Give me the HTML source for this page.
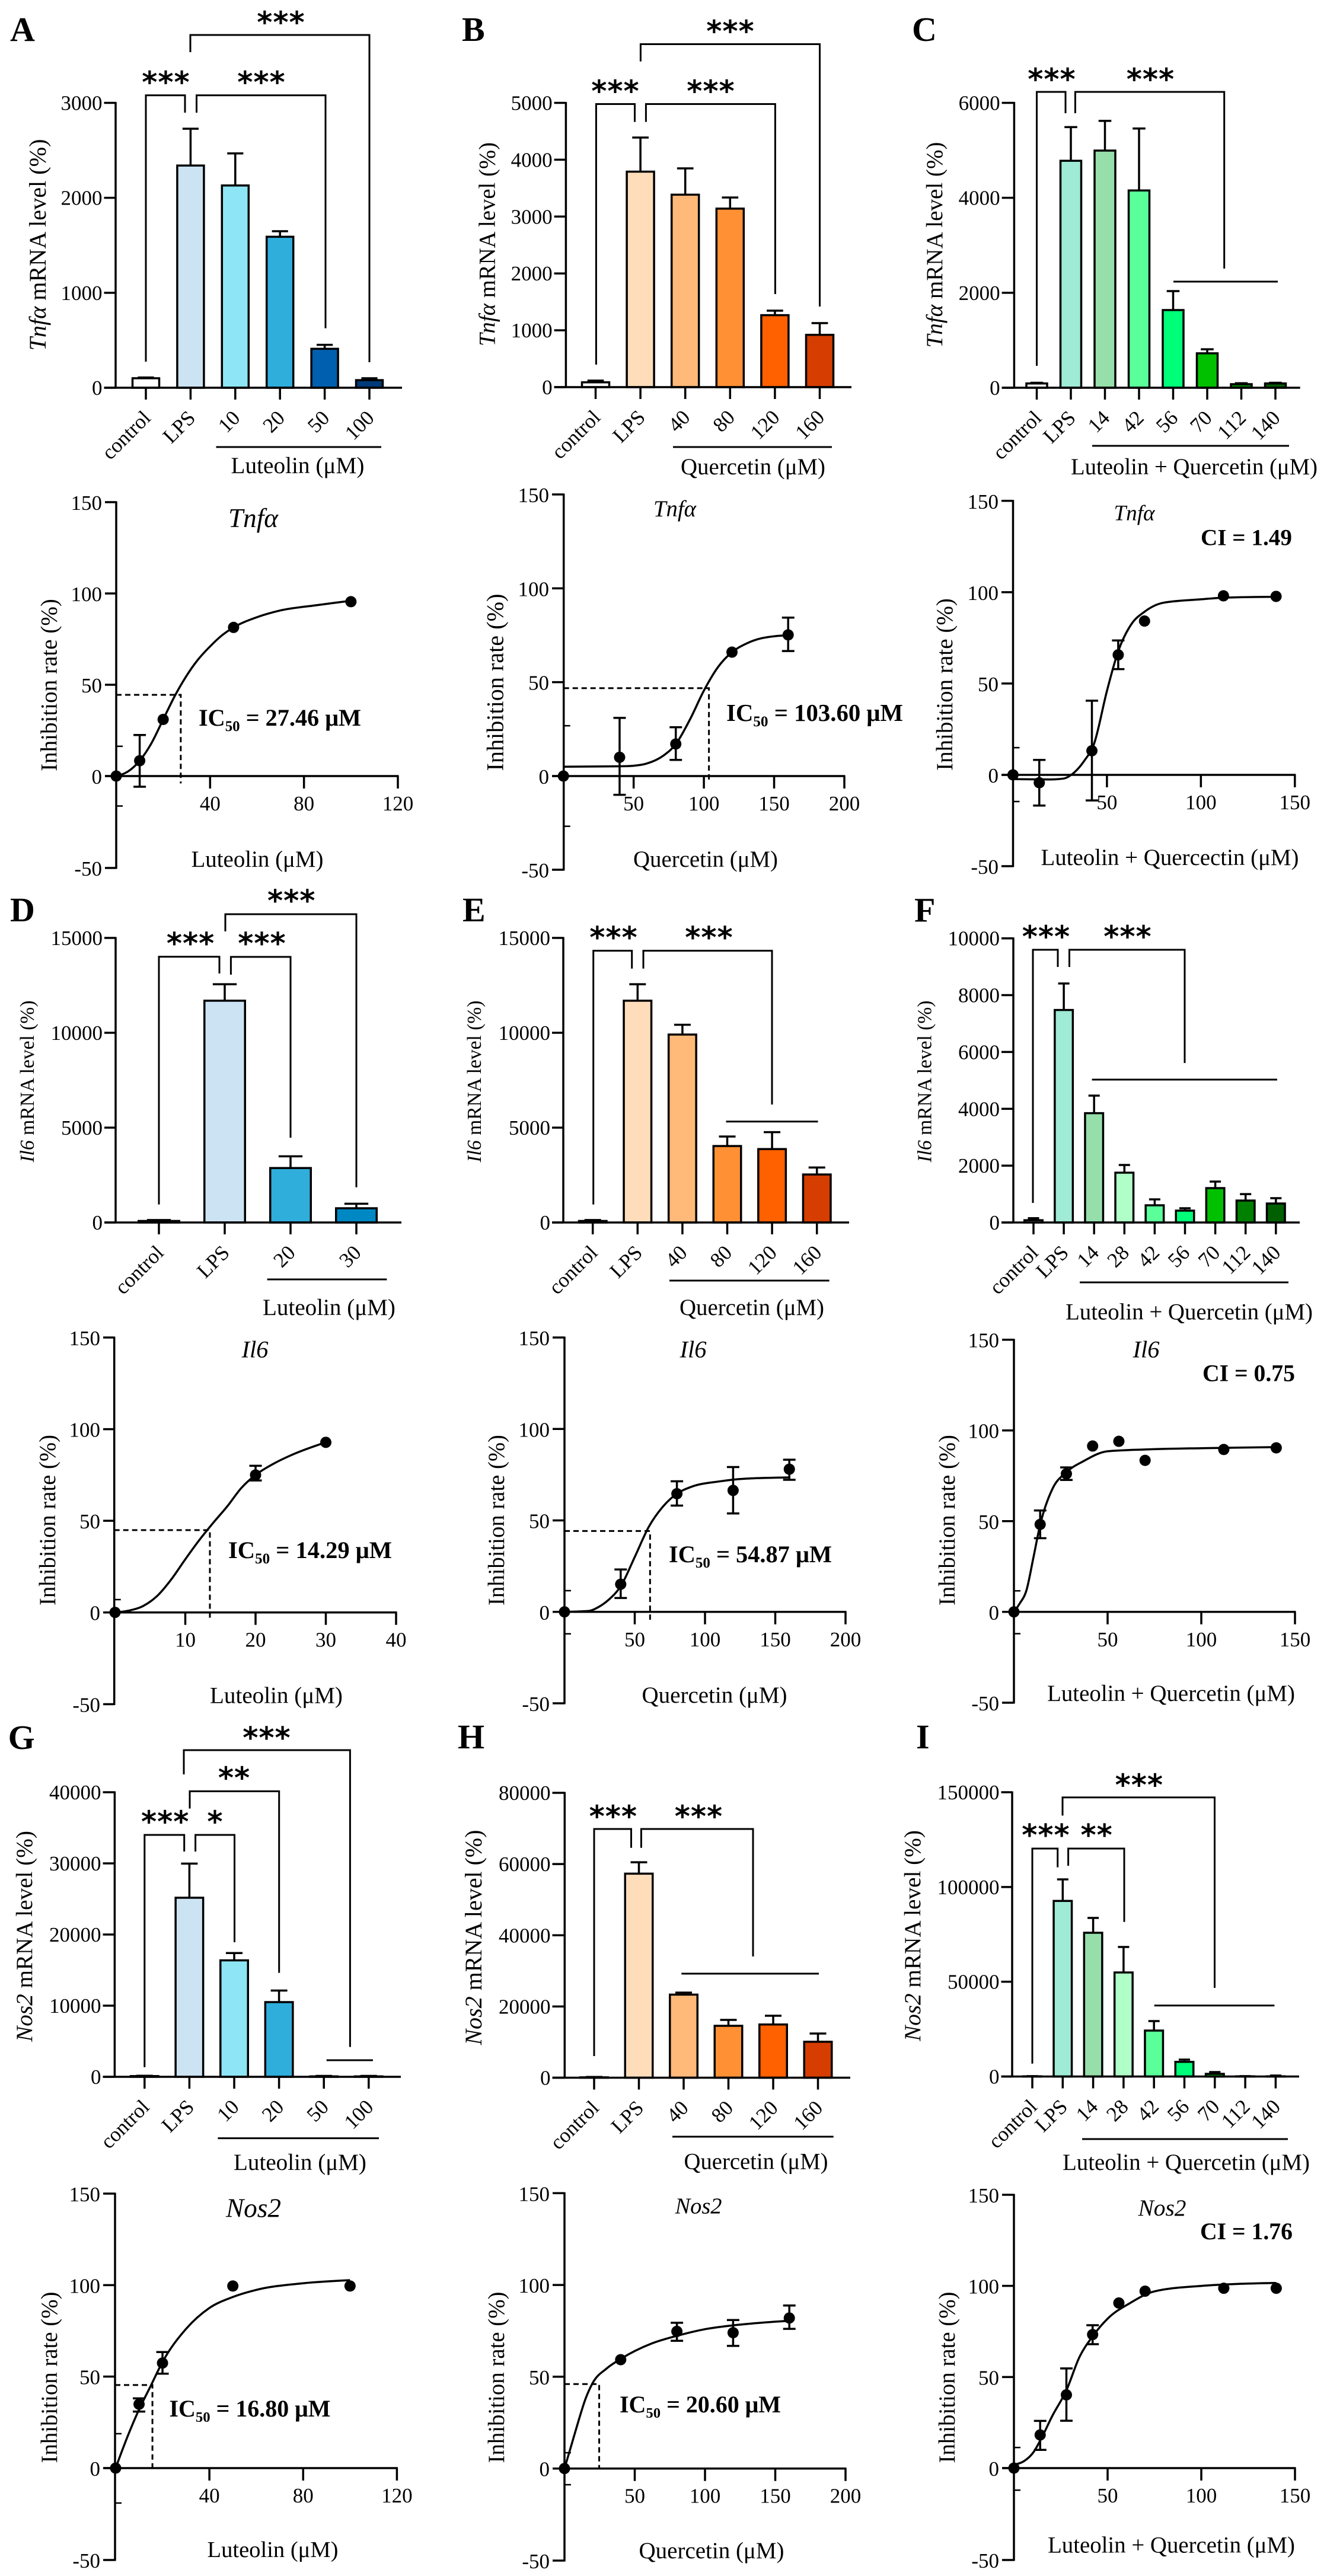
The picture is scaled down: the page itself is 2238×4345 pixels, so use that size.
<!DOCTYPE html>
<html lang="en">
<head>
<meta charset="utf-8">
<title>Inhibition of Tnfα, Il6 and Nos2 mRNA by luteolin and quercetin</title>
<style>
html,body{margin:0;padding:0;background:#fff;}
svg{display:block;font-family:"Liberation Serif",serif;}
</style>
</head>
<body>
<svg id="figure" xmlns="http://www.w3.org/2000/svg" width="2238" height="4345" viewBox="0 0 2238 4345">
<rect x="0" y="0" width="2238" height="4345" fill="#ffffff"/>
</svg>
<script>
/* ---------- bar chart data ---------- */
const aCats = ['control','LPS','10','20','50','100'];
const aValues = [100,2340,2130,1590,410,80];
const aErrors = [8,388,338,58,42,20];
const aYTicks = [0,1000,2000,3000];
const aColors = ['#ffffff','#cce3f3','#8ee5f5','#2faedb','#005fae','#003a78'];

const bCats = ['control','LPS','40','80','120','160'];
const bValues = [85,3790,3385,3140,1266,920];
const bErrors = [30,600,463,195,79,206];
const bYTicks = [0,1000,2000,3000,4000,5000];
const bColors = ['#ffffff','#ffddbb','#ffb978','#ff9033','#ff6000','#d63d00'];

const cCats = ['control','LPS','14','42','56','70','112','140'];
const cValues = [90,4780,4995,4155,1636,725,75,90];
const cErrors = [15,710,625,1305,400,85,20,15];
const cYTicks = [0,2000,4000,6000];
const cColors = ['#ffffff','#9febd5','#96dfaa','#5aff9a','#00ff78','#00c000','#008000','#005f00'];

const dCats = ['control','LPS','20','30'];
const dValues = [80,11690,2870,750];
const dErrors = [50,870,620,240];
const dYTicks = [0,5000,10000,15000];
const dColors = ['#ffffff','#cce3f3','#2faedb','#0088c4'];

const eCats = ['control','LPS','40','80','120','160'];
const eValues = [80,11690,9906,4030,3870,2530];
const eErrors = [50,870,514,500,890,370];
const eYTicks = [0,5000,10000,15000];
const eColors = ['#ffffff','#ffddbb','#ffb978','#ff9033','#ff6000','#d63d00'];

const fCats = ['control','LPS','14','28','42','56','70','112','140'];
const fValues = [80,7478,3847,1753,605,417,1210,772,668];
const fErrors = [70,932,618,271,209,83,230,228,187];
const fYTicks = [0,2000,4000,6000,8000,10000];
const fColors = ['#ffffff','#9febd5','#96dfaa','#b0ffc8','#5aff9a','#00ff78','#00c000','#008000','#005f00'];

const gCats = ['control','LPS','10','20','50','100'];
const gValues = [100,25170,16370,10500,60,60];
const gErrors = [50,4800,1030,1620,60,60];
const gYTicks = [0,10000,20000,30000,40000];
const gColors = ['#ffffff','#cce3f3','#8ee5f5','#2faedb','#005fae','#003a78'];

const hCats = ['control','LPS','40','80','120','160'];
const hValues = [100,57300,23330,14570,14940,10090];
const hErrors = [100,3200,570,1660,2460,2310];
const hYTicks = [0,20000,40000,60000,80000];
const hColors = ['#ffffff','#ffddbb','#ffb978','#ff9033','#ff6000','#d63d00'];

const iCats = ['control','LPS','14','28','42','56','70','112','140'];
const iValues = [100,92650,75850,54900,24240,7730,1400,100,100];
const iErrors = [100,11350,7850,13450,5000,1200,940,100,400];
const iYTicks = [0,50000,100000,150000];
const iColors = ['#ffffff','#9febd5','#96dfaa','#b0ffc8','#5aff9a','#00ff78','#00c000','#008000','#005f00'];

/* ---------- dose-response data ---------- */
const inhibYTicks = [150,100,50,0,-50];

const a2Dose = [0,10,20,50,100];
const a2Inhib = [0,8.4,31,81.4,95.5];
const a2ErrUp = [0,14.1,0,0,0];
const a2ErrDown = [0,14.2,0,0,0];
const a2FitX = [0,5,10,15,20,25,30,35,40,45,50,60,70,85,100];
const a2FitY = [0,2.5,8.4,18,31,44,55,64,71,77,81.4,87,90.7,93.5,96];
const a2XTicks = [40,80,120];

const b2Dose = [0,40,80,120,160];
const b2Inhib = [0,10,17.1,66,75.2];
const b2ErrUp = [0,21,8.9,0,9.2];
const b2ErrDown = [0,20,8.5,0,8.6];
const b2FitX = [0,40,50,59,71,80,90,100,110,120,130,141,160];
const b2FitY = [5,5.2,5.5,6.6,10.8,17,30,45.5,58,66,70.5,73.4,75];
const b2XTicks = [50,100,150,200];

const c2Dose = [0,14,42,56,70,112,140];
const c2Inhib = [0,-4.3,13.2,65.7,84.2,98,97.7];
const c2ErrUp = [0,12.5,27.4,7.9,0,0,0];
const c2ErrDown = [0,12.5,27.2,7.8,0,0,0];
const c2FitX = [0,20,27,31,38,43,50,56,63,70,80,100,112,140];
const c2FitY = [-2.3,-2.5,-2,0,7.8,16.6,46,67.7,82.5,89.3,94.2,96.1,97,97.5];
const c2XTicks = [50,100,150];

const d2Dose = [0,20,30];
const d2Inhib = [0,75,92.8];
const d2ErrUp = [0,5,0];
const d2ErrDown = [0,3,0];
const d2FitX = [0,2,4,6,8,10,12,14,16,18,20,22.5,25,30];
const d2FitY = [0,1,3.5,9,18,29,39.5,49,58,68,75,81,85.7,92.8];
const d2XTicks = [10,20,30,40];

const e2Dose = [0,40,80,120,160];
const e2Inhib = [0,15.1,64.6,66.4,78];
const e2ErrUp = [0,8.1,6.8,12.8,5.2];
const e2ErrDown = [0,7.5,6.5,12.6,5.8];
const e2FitX = [0,17,25,32,40,50,60,70,80,90,110,128,160];
const e2FitY = [0,0.5,3,7,14,30,46.5,57.5,64.6,68.3,71.3,72.8,73.5];
const e2XTicks = [50,100,150,200];

const f2Dose = [0,14,28,42,56,70,112,140];
const f2Inhib = [0,48.2,76.1,91.4,94,83.5,89.5,90.4];
const f2ErrUp = [0,7.7,3.5,0,0,0,0,0];
const f2ErrDown = [0,7.6,3.4,0,0,0,0,0];
const f2FitX = [0,3,6.7,10.4,14,20.4,28,37,50,70,100,140];
const f2FitY = [0,4.5,12,30,48,67.5,77,83,88.5,89.5,90.2,90.8];
const f2XTicks = [50,100,150];

const g2Dose = [0,10,20,50,100];
const g2Inhib = [0,34.9,57.4,99.5,99.5];
const g2ErrUp = [0,3.2,6,0,0];
const g2ErrDown = [0,4,5.8,0,0];
const g2FitX = [0,5,10,15,20,30,40,50,60,80,100];
const g2FitY = [0,17,32,45,58,76,87.5,93.5,97.4,101,102.7];
const g2XTicks = [40,80,120];

const h2Dose = [0,40,80,120,160];
const h2Inhib = [0,59.3,74.7,74,82];
const h2ErrUp = [0,0,4.7,6.9,6.8];
const h2ErrDown = [0,0,5.1,7.2,5.9];
const h2FitX = [0,5,10,15,20,30,40,62,80,100,120,160];
const h2FitY = [0,13,26,38,46.5,54.5,59.7,68.1,72.3,75.9,78,80.5];
const h2XTicks = [50,100,150,200];

const i2Dose = [0,14,28,42,56,70,112,140];
const i2Inhib = [0,18.2,40.2,73.3,90.6,97.1,98.7,98.7];
const i2ErrUp = [0,7.7,14.5,5.1,0,0,0,0];
const i2ErrDown = [0,8.2,14.2,5.3,0,0,0,0];
const i2FitX = [0,5.5,10.4,14,20.4,28,35,42,50,62,75,100,140];
const i2FitY = [2,3.9,8.7,15,28.5,42.7,61,72.3,82,90.6,97,100,101.6];
const i2XTicks = [50,100,150];

/* ---------- layout ---------- */
const barPanels = [
 {id:'a',letter:'A',lx:17,ly:69,axisX:195,yTop:173.5,y0:654,yMax:3000,leftTick:175.5,xRight:678,cx0:246,dx:75.4,barW:48.5,
  cats:aCats,values:aValues,errors:aErrors,yTicks:aYTicks,colors:aColors,
  gene:'Tnfα',rest:' mRNA level  (%)',yl:{x:77,cy:413,len:357},under:[364.5,643,754],group:{t:'Luteolin (μM)',cx:502,y:798,len:225},
  brackets:[[246,312,160.7,610,190],[331.5,549,160.7,190,553.6],[321,623,59,88,611]],
  stars:[[280,129,3],[441,129,3],[474,28,3]],lines:[]},
 {id:'b',letter:'B',lx:779,ly:69,axisX:954.4,yTop:173.5,y0:653,yMax:5000,leftTick:934.6,xRight:1436,cx0:1004.5,dx:75.6,barW:49.5,
  cats:bCats,values:bValues,errors:bErrors,yTicks:bYTicks,colors:bColors,
  gene:'Tnfα',rest:' mRNA level (%)',yl:{x:834.6,cy:412,len:344},under:[1135,1403,754],group:{t:'Quercetin (μM)',cx:1270,y:800,len:244},
  brackets:[[1005.4,1070.5,175.5,615,205.6],[1089.4,1307.4,175.5,205.6,496],[1080.4,1382.5,74.5,103.6,517]],
  stars:[[1038,144,3],[1199,144,3],[1232,43,3]],lines:[]},
 {id:'c',letter:'C',lx:1538,ly:69,axisX:1710.4,yTop:173.5,y0:654,yMax:6000,leftTick:1689.6,xRight:2192.7,cx0:1748.5,dx:57.5,barW:38.5,
  cats:cCats,values:cValues,errors:cErrors,yTicks:cYTicks,colors:cColors,
  gene:'Tnfα',rest:' mRNA level (%)',yl:{x:1589,cy:413,len:347},under:[1842,2174,752],group:{t:'Luteolin + Quercetin (μM)',cx:2014,y:800,len:416},
  brackets:[[1748.5,1797,155,617,191],[1813.4,2064.7,155,191,453]],
  stars:[[1774,124,3],[1940.5,124,3]],lines:[[1979,2155,475]]},
 {id:'d',letter:'D',lx:17,ly:1554,axisX:195,yTop:1582,y0:2062,yMax:15000,leftTick:176,xRight:677,cx0:268,dx:111,barW:72,
  cats:dCats,values:dValues,errors:dErrors,yTicks:dYTicks,colors:dColors,
  gene:'Il6',rest:' mRNA level (%)',yl:{x:57,cy:1824,len:273},under:[450.6,652.4,2158],group:{t:'Luteolin (μM)',cx:555,y:2218,len:224},
  brackets:[[268,370,1613.8,2031.6,1642],[389.4,490,1614,1644,1919],[380,601,1542,1571,2002.6]],
  stars:[[321.6,1581.6,3],[442,1581.6,3],[491.7,1509.7,3]],lines:[]},
 {id:'e',letter:'E',lx:780,ly:1554,axisX:950,yTop:1582,y0:2062,yMax:15000,leftTick:931,xRight:1432,cx0:999.7,dx:75.6,barW:50,
  cats:eCats,values:eValues,errors:eErrors,yTicks:eYTicks,colors:eColors,
  gene:'Il6',rest:' mRNA level (%)',yl:{x:811,cy:1824,len:273},under:[1129,1398.6,2160],group:{t:'Quercetin (μM)',cx:1268,y:2218,len:244},
  brackets:[[1000.7,1065.7,1603.6,2031.6,1633.7],[1085,1302,1603.6,1633.7,1863]],
  stars:[[1035,1571.4,3],[1196,1571.4,3]],lines:[[1224.5,1379.5,1891.8]]},
 {id:'f',letter:'F',lx:1542,ly:1554.6,axisX:1709,yTop:1582.7,y0:2062,yMax:10000,leftTick:1689,xRight:2192,cx0:1743,dx:51.1,barW:34,
  cats:fCats,values:fValues,errors:fErrors,yTicks:fYTicks,colors:fColors,
  gene:'Il6',rest:' mRNA level (%)',yl:{x:1570.6,cy:1824,len:273},under:[1821,2173,2163],group:{t:'Luteolin + Quercetin (μM)',cx:2005.5,y:2225.5,len:417},
  brackets:[[1742,1784,1602,2029,1631],[1803.5,1998,1602,1631,1793]],
  stars:[[1764.5,1570,3],[1902,1570,3]],lines:[[1841.6,2154,1821]]},
 {id:'g',letter:'G',lx:13.6,ly:2950,axisX:193.4,yTop:3023,y0:3503,yMax:40000,leftTick:173.5,xRight:676,cx0:243.8,dx:75.6,barW:50,
  cats:gCats,values:gValues,errors:gErrors,yTicks:gYTicks,colors:gColors,
  gene:'Nos2',rest:' mRNA level (%)',yl:{x:54,cy:3266,len:356},under:[367.4,639,3606.6],group:{t:'Luteolin (μM)',cx:506,y:3660,len:224},
  brackets:[[243.8,310.7,3095,3486.7,3123],[329.6,395.5,3095,3123,3276],[320,470.7,3021.4,3050.5,3327.6],[310,590.4,2952,2992.9,3452.6]],
  stars:[[278.7,3063,3],[363,3063,1],[395,2989,2],[450,2921.4,3]],lines:[[550.7,629,3475]]},
 {id:'h',letter:'H',lx:772,ly:2949,axisX:952.3,yTop:3024,y0:3504.5,yMax:80000,leftTick:931.5,xRight:1434,cx0:1002,dx:75.5,barW:50,
  cats:hCats,values:hValues,errors:hErrors,yTicks:hYTicks,colors:hColors,
  gene:'Nos2',rest:' mRNA level (%)',yl:{x:812,cy:3268,len:363},under:[1134,1405.7,3604],group:{t:'Quercetin (μM)',cx:1275,y:3658.6,len:243},
  brackets:[[1002,1064.5,3085,3468,3116.7],[1081.4,1270,3085,3116.7,3300]],
  stars:[[1034.3,3054,3],[1178.5,3054,3]],lines:[[1149.3,1381,3329]]},
 {id:'i',letter:'I',lx:1545,ly:2949,axisX:1707,yTop:3023,y0:3502.5,yMax:150000,leftTick:1688.5,xRight:2191,cx0:1741,dx:51.3,barW:34,
  cats:iCats,values:iValues,errors:iErrors,yTicks:iYTicks,colors:iColors,
  gene:'Nos2',rest:' mRNA level (%)',yl:{x:1552,cy:3265,len:356},under:[1825,2172,3608],group:{t:'Luteolin + Quercetin (μM)',cx:2000.5,y:3660,len:417},
  brackets:[[1741,1783.7,3118,3480.7,3149.6],[1801.6,1896,3118,3147,3241.7],[1792,2048.5,3031.8,3062.4,3353]],
  stars:[[1764,3085.7,3],[1849.6,3085.7,2],[1921.3,3000.8,3]],lines:[[1946.7,2149.4,3382.8]]}
];

const curvePanels = [
 {id:'a2',axisX:196,x0:196,xEnd:671,xMax:120,yTop:847,y0:1309,yBot:1464,leftTick:177,
  dose:a2Dose,inhib:a2Inhib,up:a2ErrUp,down:a2ErrDown,fitX:a2FitX,fitY:a2FitY,xTicks:a2XTicks,minor:[16.3,-16.3],
  guide:{x:27.5,y:44.5,end:-4},title:{t:'Tnfα',cx:427,y:889,len:84},xl:{t:'Luteolin (μM)',cx:434,y:1462,len:223},
  yl:{x:95.5,cy:1155.5,len:291},ic:{v:' = 27.46 μM',x:335,y:1224,len:274}},
 {id:'b2',axisX:950.7,x0:950.2,xEnd:1424,xMax:200,yTop:834,y0:1309,yBot:1467,leftTick:931,
  dose:b2Dose,inhib:b2Inhib,up:b2ErrUp,down:b2ErrDown,fitX:b2FitX,fitY:b2FitY,xTicks:b2XTicks,minor:[26.8,-26.8],
  guide:{x:103.6,y:46.8,end:-3.5},title:{t:'Tnfα',cx:1138,y:871,len:72},xl:{t:'Quercetin (μM)',cx:1190,y:1462,len:244},
  yl:{x:848.7,cy:1151,len:299},ic:{v:' = 103.60 μM',x:1225,y:1216,len:298}},
 {id:'c2',axisX:1708.5,x0:1708.4,xEnd:2183.8,xMax:150,yTop:844.8,y0:1307,yBot:1461,leftTick:1689,
  dose:c2Dose,inhib:c2Inhib,up:c2ErrUp,down:c2ErrDown,fitX:c2FitX,fitY:c2FitY,xTicks:c2XTicks,minor:[14.9,-14.6],
  title:{t:'Tnfα',cx:1913,y:877.5,len:69},xl:{t:'Luteolin + Quercectin (μM)',cx:1973,y:1459,len:435},
  yl:{x:1606,cy:1154.5,len:291},ci:{t:'CI = 1.49',x:2025,y:919.4,len:154}},
 {id:'d2',axisX:192.7,x0:194,xEnd:668,xMax:40,yTop:2256,y0:2719.7,yBot:2874.5,leftTick:174,
  dose:d2Dose,inhib:d2Inhib,up:d2ErrUp,down:d2ErrDown,fitX:d2FitX,fitY:d2FitY,xTicks:d2XTicks,minor:[7],
  guide:{x:13.5,y:44.9,end:-3.6},title:{t:'Il6',cx:430,y:2289.5,len:45},xl:{t:'Luteolin (μM)',cx:466,y:2872.6,len:224},
  yl:{x:93,cy:2564,len:288},ic:{v:' = 14.29 μM',x:385,y:2628,len:276}},
 {id:'e2',axisX:952,x0:952,xEnd:1426,xMax:200,yTop:2256,y0:2718.8,yBot:2873,leftTick:932,
  dose:e2Dose,inhib:e2Inhib,up:e2ErrUp,down:e2ErrDown,fitX:e2FitX,fitY:e2FitY,xTicks:e2XTicks,minor:[11.6,-12],
  guide:{x:60.9,y:44.2,end:-4.5},title:{t:'Il6',cx:1169,y:2289.5,len:45},xl:{t:'Quercetin (μM)',cx:1205,y:2872,len:245},
  yl:{x:850,cy:2564,len:288},ic:{v:' = 54.87 μM',x:1128,y:2635,len:275}},
 {id:'f2',axisX:1710,x0:1710,xEnd:2184,xMax:150,yTop:2259.7,y0:2718.8,yBot:2872,leftTick:1690,
  dose:f2Dose,inhib:f2Inhib,up:f2ErrUp,down:f2ErrDown,fitX:f2FitX,fitY:f2FitY,xTicks:f2XTicks,minor:[11.6,-12],
  title:{t:'Il6',cx:1933,y:2289.5,len:45},xl:{t:'Luteolin + Quercetin (μM)',cx:1975,y:2869,len:418},
  yl:{x:1610,cy:2564,len:288},ci:{t:'CI = 0.75',x:2028,y:2329.5,len:156}},
 {id:'g2',axisX:194,x0:195,xEnd:669.4,xMax:120,yTop:3700,y0:4163,yBot:4318,leftTick:174,
  dose:g2Dose,inhib:g2Inhib,up:g2ErrUp,down:g2ErrDown,fitX:g2FitX,fitY:g2FitY,xTicks:g2XTicks,minor:[18.8,-19],
  guide:{x:15.7,y:45.4,end:0},title:{t:'Nos2',cx:427.5,y:3739.5,len:93},xl:{t:'Luteolin (μM)',cx:460,y:4313,len:221},
  yl:{x:96,cy:4010,len:289},ic:{v:' = 16.80 μM',x:285.5,y:4076,len:272}},
 {id:'h2',axisX:952,x0:952,xEnd:1426,xMax:200,yTop:3699.3,y0:4163.7,yBot:4319,leftTick:932,
  dose:h2Dose,inhib:h2Inhib,up:h2ErrUp,down:h2ErrDown,fitX:h2FitX,fitY:h2FitY,xTicks:h2XTicks,minor:[8.6,-8.8],
  guide:{x:24.7,y:46,end:0},title:{t:'Nos2',cx:1178,y:3733.4,len:79},xl:{t:'Quercetin (μM)',cx:1200,y:4315,len:245},
  yl:{x:850,cy:4010,len:289},ic:{v:' = 20.60 μM',x:1045,y:4069,len:272}},
 {id:'i2',axisX:1710,x0:1710,xEnd:2184,xMax:150,yTop:3702,y0:4163,yBot:4318,leftTick:1690,
  dose:i2Dose,inhib:i2Inhib,up:i2ErrUp,down:i2ErrDown,fitX:i2FitX,fitY:i2FitY,xTicks:i2XTicks,minor:[11.3,-12],
  title:{t:'Nos2',cx:1960,y:3737,len:81},xl:{t:'Luteolin + Quercetin (μM)',cx:1975.5,y:4305.7,len:417},
  yl:{x:1610,cy:4010,len:289},ci:{t:'CI = 1.76',x:2024,y:3777,len:156}}
];

/* ---------- helpers ---------- */
const NS = 'http://www.w3.org/2000/svg';
const root = document.getElementById('figure');
const TICK_FONT = 35;
const STROKE = 3.5;

function mk(parent, tag, attrs, txt){
  const el = document.createElementNS(NS, tag);
  for (const k in attrs) el.setAttribute(k, attrs[k]);
  if (txt !== undefined) el.textContent = txt;
  parent.appendChild(el);
  return el;
}
function fit(el, len){
  const base = parseFloat(el.getAttribute('font-size'));
  const w = el.getComputedTextLength();
  if (w > 0) el.setAttribute('font-size', (base * len / w).toFixed(2));
}
function seg(parent, x1, y1, x2, y2, w){
  return mk(parent, 'line', {x1:x1, y1:y1, x2:x2, y2:y2, stroke:'#000', 'stroke-width':w || STROKE});
}

function drawBar(p){
  const g = mk(root, 'g', {});
  
  
  const sy = v => p.y0 - v / p.yMax * (p.y0 - p.yTop);
  const sx = i => p.cx0 + i * p.dx;

  const letter = mk(g, 'text', {x:p.lx, y:p.ly, 'font-size':58, 'font-weight':'bold'}, p.letter);
  
  

  p.values.forEach((v, i) => {
    const cx = sx(i);
    const top = sy(v);
    const errTop = sy(v + p.errors[i]);
    const errLine = seg(g, cx, top, cx, errTop);
    
    
    const cap = seg(g, cx - p.barW * 0.28, errTop, cx + p.barW * 0.28, errTop);
    
    
    const bar = mk(g, 'rect', {x:cx - p.barW / 2 + 1.75, y:top, width:p.barW - 3.5, height:Math.max(p.y0 - top, 0), fill:p.colors[i], stroke:'#000', 'stroke-width':STROKE});
    
    
    const tick = seg(g, cx, p.y0, cx, p.y0 + 20);
    
    
    const lx = cx + 10, ly = p.y0 + 53;
    const lab = mk(g, 'text', {x:lx, y:ly, 'font-size':TICK_FONT, 'text-anchor':'end', transform:'rotate(-45 ' + lx + ' ' + ly + ')'}, p.cats[i]);
    
    
  });

  const yAxis = seg(g, p.axisX, p.yTop - 1.5, p.axisX, p.y0 + 1.5);
  
  
  const xAxis = seg(g, p.leftTick, p.y0, p.xRight, p.y0);
  
  

  p.yTicks.forEach(t => {
    const y = sy(t);
    const tick = seg(g, p.leftTick, y, p.axisX, y);
    
    
    const lab = mk(g, 'text', {x:p.leftTick - 3, y:y + 12, 'font-size':TICK_FONT, 'text-anchor':'end'}, String(t));
    
    
  });

  const yt = mk(g, 'text', {x:p.yl.x, y:p.yl.cy, 'font-size':36, 'text-anchor':'middle', transform:'rotate(-90 ' + p.yl.x + ' ' + p.yl.cy + ')', 'xml:space':'preserve'});
  
  
  mk(yt, 'tspan', {'font-style':'italic'}, p.gene);
  mk(yt, 'tspan', {}, p.rest);
  fit(yt, p.yl.len);

  const ub = seg(g, p.under[0], p.under[2], p.under[1], p.under[2], 3);
  
  
  const gt = mk(g, 'text', {x:p.group.cx, y:p.group.y, 'font-size':36, 'text-anchor':'middle'}, p.group.t);
  
  
  fit(gt, p.group.len);

  p.brackets.forEach((b, k) => {
    const br = mk(g, 'path', {d:'M' + b[0] + ' ' + b[3] + 'V' + b[2] + 'H' + b[1] + 'V' + b[4], fill:'none', stroke:'#000', 'stroke-width':3});
    
    
  });
  p.stars.forEach((s, k) => {
    const st = mk(g, 'text', {x:s[0], y:s[1] + 27, 'font-size':50, 'font-weight':'bold', 'text-anchor':'middle', 'letter-spacing':1, style:'font-family:"DejaVu Sans",sans-serif'}, '*'.repeat(s[2]));
    
    
  });
  p.lines.forEach((l, k) => {
    const ln = seg(g, l[0], l[2], l[1], l[2], 3);
    
    
  });
}

/* monotone cubic interpolation through the plotted fit points */
function smoothPath(pts){
  const n = pts.length;
  const h = [], s = [], m = [];
  for (let i = 0; i < n - 1; i++){
    h[i] = pts[i + 1][0] - pts[i][0];
    s[i] = (pts[i + 1][1] - pts[i][1]) / h[i];
  }
  for (let i = 1; i < n - 1; i++){
    const p = (s[i - 1] * h[i] + s[i] * h[i - 1]) / (h[i - 1] + h[i]);
    m[i] = (Math.sign(s[i - 1]) + Math.sign(s[i])) * Math.min(Math.abs(s[i - 1]), Math.abs(s[i]), 0.5 * Math.abs(p));
  }
  m[0] = n > 2 ? (3 * s[0] - m[1]) / 2 : s[0];
  m[n - 1] = n > 2 ? (3 * s[n - 2] - m[n - 2]) / 2 : s[0];
  let d = 'M' + pts[0][0].toFixed(1) + ' ' + pts[0][1].toFixed(1);
  for (let i = 0; i < n - 1; i++){
    const t = h[i] / 3;
    d += 'C' + (pts[i][0] + t).toFixed(1) + ' ' + (pts[i][1] + m[i] * t).toFixed(1) + ' ' + (pts[i + 1][0] - t).toFixed(1) + ' ' + (pts[i + 1][1] - m[i + 1] * t).toFixed(1) + ' ' + pts[i + 1][0].toFixed(1) + ' ' + pts[i + 1][1].toFixed(1);
  }
  return d;
}

function drawCurve(p){
  const g = mk(root, 'g', {});
  
  
  const sx = v => p.x0 + v / p.xMax * (p.xEnd - p.x0);
  const sy = v => p.y0 - v / 150 * (p.y0 - p.yTop);
  const yv = v => v >= 0 ? sy(v) : p.y0 + (-v) / 50 * (p.yBot - p.y0);

  const yAxis = seg(g, p.axisX, p.yTop - 1.5, p.axisX, p.yBot + 1.5);
  
  
  const xAxis = seg(g, p.leftTick, p.y0, p.xEnd + 1.5, p.y0);
  
  

  inhibYTicks.forEach(t => {
    const y = yv(t);
    const tick = seg(g, p.leftTick, y, p.axisX, y);
    
    
    const lab = mk(g, 'text', {x:p.leftTick - 5, y:y + 13, 'font-size':TICK_FONT, 'text-anchor':'end'}, String(t));
    
    
  });
  p.minor.forEach(t => {
    const y = yv(t);
    const tick = seg(g, p.axisX, y, p.axisX + 11, y, 2.5);
    
    
  });
  p.xTicks.forEach(t => {
    const x = sx(t);
    const tick = seg(g, x, p.y0, x, p.y0 + 21);
    
    
    const lab = mk(g, 'text', {x:x, y:p.y0 + 58, 'font-size':TICK_FONT, 'text-anchor':'middle'}, String(t));
    
    
  });

  if (p.guide){
    const hx = sx(p.guide.x), hy = sy(p.guide.y);
    const guide = mk(g, 'path', {d:'M' + p.axisX + ' ' + hy + 'H' + hx + 'V' + yv(p.guide.end), fill:'none', stroke:'#000', 'stroke-width':3, 'stroke-dasharray':'9 6'});
    
    
  }

  const pts = p.fitX.map((x, i) => [sx(x), yv(p.fitY[i])]);
  const fitLine = mk(g, 'path', {d:smoothPath(pts), fill:'none', stroke:'#000', 'stroke-width':3.5});
  
  

  p.dose.forEach((d, i) => {
    const x = sx(d), y = yv(p.inhib[i]);
    if (p.up[i] || p.down[i]){
      const yU = yv(p.inhib[i] + p.up[i]), yD = yv(p.inhib[i] - p.down[i]);
      const eb = mk(g, 'path', {d:'M' + (x - 10.5) + ' ' + yU + 'H' + (x + 10.5) + 'M' + x + ' ' + yU + 'V' + yD + 'M' + (x - 10.5) + ' ' + yD + 'H' + (x + 10.5), fill:'none', stroke:'#000', 'stroke-width':3.5});
      
      
    }
    const dot = mk(g, 'circle', {cx:x, cy:y, r:9.5, fill:'#000'});
    
    
  });

  const tt = mk(g, 'text', {x:p.title.cx, y:p.title.y, 'font-size':40, 'font-style':'italic', 'text-anchor':'middle'}, p.title.t);
  
  
  fit(tt, p.title.len);

  const xt = mk(g, 'text', {x:p.xl.cx, y:p.xl.y, 'font-size':36, 'text-anchor':'middle'}, p.xl.t);
  
  
  fit(xt, p.xl.len);

  const yt = mk(g, 'text', {x:p.yl.x, y:p.yl.cy, 'font-size':36, 'text-anchor':'middle', transform:'rotate(-90 ' + p.yl.x + ' ' + p.yl.cy + ')'}, 'Inhibition rate (%)');
  
  
  fit(yt, p.yl.len);

  if (p.ic){
    const ic = mk(g, 'text', {x:p.ic.x, y:p.ic.y, 'font-size':38, 'font-weight':'bold', 'xml:space':'preserve'});
    
    
    mk(ic, 'tspan', {}, 'IC');
    mk(ic, 'tspan', {dy:9, 'font-size':'0.62em'}, '50');
    mk(ic, 'tspan', {dy:-9}, p.ic.v);
    fit(ic, p.ic.len);
  }
  if (p.ci){
    const ci = mk(g, 'text', {x:p.ci.x, y:p.ci.y, 'font-size':38, 'font-weight':'bold'}, p.ci.t);
    
    
    fit(ci, p.ci.len);
  }
}

barPanels.forEach(drawBar);
curvePanels.forEach(drawCurve);
</script>
</body>
</html>
